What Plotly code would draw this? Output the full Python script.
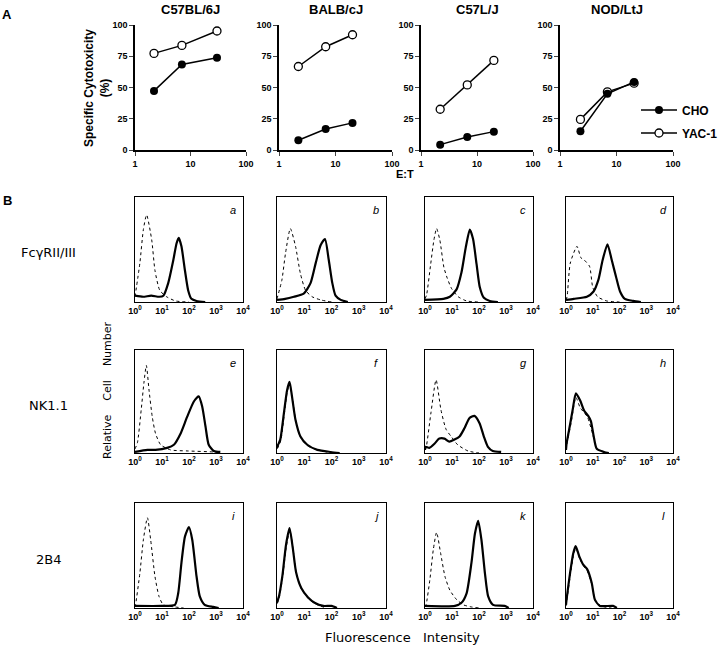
import numpy as np
import plotly.graph_objects as go

W, H = 720, 646

# ---------------- Panel A data ----------------
strains = ["C57BL/6J", "BALB/cJ", "C57L/J", "NOD/LtJ"]
et_c57bl6 = [2.2, 7.0, 30]
et_balb = [2.2, 6.7, 20]
et_c57l = [2.2, 6.7, 20]
et_nod = [2.3, 6.9, 20.5]
cho_c57bl6 = [47.3, 68.4, 73.8]
yac_c57bl6 = [77.3, 83.7, 95.2]
cho_balb = [7.8, 16.8, 21.7]
yac_balb = [66.8, 82.6, 92.2]
cho_c57l = [4.3, 10.4, 14.7]
yac_c57l = [32.6, 52.1, 71.7]
cho_nod = [15.0, 45.0, 54.5]
yac_nod = [24.5, 46.5, 53.5]
a_yticks = [0, 25, 50, 75, 100]
a_xticks = [1, 10, 100]
a_xticklabels = ["1", "10", "100"]

# ---------------- Panel B data (log10 fluorescence, % of max height) ----------------
a_dot_lx = [0.0, 0.18, 0.31, 0.43, 0.62, 0.74, 0.92, 1.17, 1.5, 2.0]
a_dot_y = [5, 37, 69, 83, 59, 30, 11, 5, 1, 0]
a_sol_lx = [0.0, 0.3, 0.6, 0.9, 1.05, 1.23, 1.42, 1.54, 1.62, 1.72, 1.85, 1.97, 2.09, 2.28, 2.6]
a_sol_y = [6, 5, 6, 5, 6, 18, 40, 56, 61, 53, 30, 11, 3, 1, 0]

b_dot_lx = [0.0, 0.18, 0.31, 0.49, 0.68, 0.86, 1.05, 1.29, 1.6, 2.0]
b_dot_y = [3, 21, 46, 70, 53, 27, 11, 5, 2, 0]
b_sol_lx = [0.0, 0.3, 0.62, 0.98, 1.23, 1.42, 1.6, 1.76, 1.9, 2.03, 2.15, 2.34, 2.6]
b_sol_y = [2, 3, 5, 8, 18, 37, 54, 60, 40, 18, 6, 2, 0]

c_dot_lx = [0.0, 0.06, 0.21, 0.33, 0.43, 0.55, 0.7, 0.82, 0.98, 1.23, 1.54, 2.0]
c_dot_y = [3, 7, 36, 59, 70, 59, 33, 23, 13, 5, 1, 0]
c_sol_lx = [0.0, 0.68, 0.92, 1.17, 1.35, 1.51, 1.66, 1.78, 1.91, 2.03, 2.18, 2.4, 2.7]
c_sol_y = [2, 3, 5, 12, 28, 52, 69, 60, 36, 14, 4, 1, 0]

d_dot_lx = [0.0, 0.04, 0.16, 0.41, 0.56, 0.68, 0.88, 1.0, 1.18, 1.52, 2.0]
d_dot_y = [2, 5, 37, 53, 42, 40, 34, 14, 5, 1, 0]
d_sol_lx = [0.0, 0.29, 0.78, 1.03, 1.21, 1.37, 1.55, 1.71, 1.87, 2.02, 2.2, 2.51, 2.8]
d_sol_y = [2, 3, 5, 10, 21, 40, 55, 40, 24, 10, 3, 1, 0]

e_dot_lx = [0.0, 0.09, 0.23, 0.33, 0.42, 0.52, 0.64, 0.76, 0.95, 1.32, 1.93, 2.9, 3.2]
e_dot_y = [4, 10, 42, 68, 85, 61, 35, 19, 8, 3, 2, 1, 0]
e_sol_lx = [0.0, 0.46, 0.76, 1.19, 1.44, 1.69, 1.93, 2.18, 2.36, 2.49, 2.61, 2.73, 2.92, 3.16]
e_sol_y = [1, 3, 3, 5, 8, 19, 35, 50, 55, 45, 26, 8, 2, 1]

f_dot_lx = [0.0, 0.06, 0.14, 0.26, 0.38, 0.47, 0.56, 0.69, 0.87, 1.12, 1.5, 2.0]
f_dot_y = [4, 7, 12, 36, 60, 67, 54, 31, 15, 7, 3, 0]
f_sol_lx = [0.0, 0.04, 0.12, 0.25, 0.37, 0.46, 0.55, 0.68, 0.86, 1.11, 1.48, 1.97, 2.3]
f_sol_y = [5, 8, 13, 38, 61, 69, 55, 32, 16, 8, 3, 1, 0]

g_dot_lx = [0.0, 0.04, 0.22, 0.41, 0.59, 0.78, 0.97, 1.21, 1.59, 2.0]
g_dot_y = [3, 5, 39, 71, 42, 23, 16, 8, 2, 0]
g_sol_lx = [0.0, 0.02, 0.16, 0.35, 0.53, 0.72, 0.9, 1.09, 1.28, 1.46, 1.65, 1.83, 2.02, 2.18, 2.33, 2.51, 2.82]
g_sol_y = [3, 6, 5, 9, 14, 14, 11, 13, 16, 24, 34, 36, 29, 16, 6, 2, 1]

h_dot_lx = [0.0, 0.02, 0.19, 0.37, 0.53, 0.8, 0.99, 1.15, 1.42, 1.6]
h_dot_y = [3, 7, 29, 54, 44, 35, 19, 5, 1, 0]
h_sol_lx = [0.0, 0.02, 0.12, 0.25, 0.37, 0.53, 0.68, 0.83, 0.93, 1.03, 1.15, 1.42, 1.6]
h_sol_y = [3, 9, 23, 42, 58, 51, 41, 36, 31, 17, 4, 1, 0]

i_dot_lx = [0.0, 0.02, 0.18, 0.31, 0.46, 0.58, 0.74, 0.89, 1.05, 1.48, 1.8]
i_dot_y = [1, 3, 33, 65, 86, 65, 30, 11, 3, 1, 0]
i_sol_lx = [0.0, 0.98, 1.48, 1.6, 1.72, 1.85, 2.0, 2.12, 2.28, 2.4, 2.58, 2.9, 3.1]
i_sol_y = [2, 2, 3, 14, 43, 68, 77, 65, 30, 11, 3, 1, 0]

j_dot_lx = [0.0, 0.09, 0.21, 0.34, 0.47, 0.59, 0.71, 0.9, 1.15, 1.4, 1.8]
j_dot_y = [4, 11, 30, 58, 74, 56, 33, 18, 9, 4, 0]
j_sol_lx = [0.0, 0.08, 0.2, 0.33, 0.46, 0.58, 0.7, 0.89, 1.14, 1.38, 1.7, 2.0, 2.2]
j_sol_y = [5, 12, 31, 60, 76, 57, 34, 19, 10, 5, 2, 2, 0]

k_dot_lx = [0.0, 0.04, 0.18, 0.31, 0.43, 0.58, 0.74, 0.92, 1.17, 1.42, 1.72, 2.0]
k_dot_y = [1, 3, 27, 56, 72, 52, 30, 17, 8, 3, 1, 0]
k_sol_lx = [0.0, 1.11, 1.35, 1.54, 1.72, 1.85, 1.97, 2.09, 2.22, 2.34, 2.52, 2.95, 3.1]
k_sol_y = [2, 2, 5, 14, 43, 71, 83, 65, 33, 11, 3, 2, 0]

l_dot_lx = [0.0, 0.03, 0.16, 0.28, 0.37, 0.51, 0.66, 0.8, 0.97, 1.09, 1.3, 1.7]
l_dot_y = [2, 7, 31, 50, 57, 47, 40, 35, 22, 7, 2, 0]
l_sol_lx = [0.0, 0.02, 0.15, 0.27, 0.36, 0.5, 0.65, 0.79, 0.96, 1.08, 1.27, 1.76, 1.9]
l_sol_y = [3, 8, 33, 52, 59, 49, 41, 37, 24, 8, 2, 2, 0]

panel_letters = ["a", "b", "c", "d", "e", "f", "g", "h", "i", "j", "k", "l"]
row_labels = ["FcγRII/III", "NK1.1", "2B4"]
hist_xticks = [1, 10, 100, 1000, 10000]
hist_xticklabels = ["10<sup>0</sup>", "10<sup>1</sup>", "10<sup>2</sup>", "10<sup>3</sup>", "10<sup>4</sup>"]

# ---------------- layout geometry (pixels) ----------------
a_cols = [(135, 246), (279, 392), (421, 533), (560, 673)]
a_top, a_bot = 25, 150
b_cols = [(135, 243), (277, 386), (425, 533), (566, 673)]
b_rows = [(197, 302), (350, 453), (503, 608)]

def fx(p):
    return p / W

def fy(p):
    return 1 - p / H

fig = go.Figure()
layout = dict(width=W, height=H, margin=dict(l=0, r=0, t=0, b=0, autoexpand=False),
              plot_bgcolor="white", paper_bgcolor="white", showlegend=True)
annotations = []
bold = dict(family="Liberation Sans, Arial", color="black", weight="bold")

ets = [et_c57bl6, et_balb, et_c57l, et_nod]
chos = [cho_c57bl6, cho_balb, cho_c57l, cho_nod]
yacs = [yac_c57bl6, yac_balb, yac_c57l, yac_nod]

for i in range(4):
    n = i + 1
    xa = "x" if n == 1 else f"x{n}"
    ya = "y" if n == 1 else f"y{n}"
    l, r = a_cols[i]
    layout["xaxis" if n == 1 else f"xaxis{n}"] = dict(
        domain=[fx(l), fx(r)], anchor=ya, type="log", range=[0, 2],
        tickvals=a_xticks, ticktext=a_xticklabels, ticks="outside", ticklen=4,
        tickwidth=1.2, showline=True, linewidth=1.5, linecolor="black",
        showgrid=False, zeroline=False, tickfont=dict(size=9, **bold))
    layout["yaxis" if n == 1 else f"yaxis{n}"] = dict(
        domain=[fy(a_bot), fy(a_top)], anchor=xa, range=[0, 100],
        tickvals=a_yticks, ticks="outside", ticklen=4, tickwidth=1.2,
        showline=True, linewidth=1.5, linecolor="black", showgrid=False,
        zeroline=False, tickfont=dict(size=9, **bold))
    fig.add_trace(go.Scatter(
        x=ets[i], y=yacs[i], mode="lines+markers", name="YAC-1", xaxis=xa, yaxis=ya,
        line=dict(color="black", width=1.5),
        marker=dict(symbol="circle", size=8, color="white", line=dict(color="black", width=1.3)),
        showlegend=(i == 3), legend="legend2", cliponaxis=False))
    fig.add_trace(go.Scatter(
        x=ets[i], y=chos[i], mode="lines+markers", name="CHO", xaxis=xa, yaxis=ya,
        line=dict(color="black", width=1.5),
        marker=dict(symbol="circle", size=8, color="black"),
        showlegend=(i == 3), legend="legend", cliponaxis=False))
    annotations.append(dict(x=fx((l + r) / 2), y=fy(9), text=strains[i],
                            font=dict(size=13, **bold)))

layout["legend"] = dict(x=fx(636), y=fy(110), xanchor="left", yanchor="middle",
                        font=dict(size=12, **bold), bgcolor="rgba(0,0,0,0)", itemwidth=36)
layout["legend2"] = dict(x=fx(636), y=fy(133), xanchor="left", yanchor="middle",
                         font=dict(size=12, **bold), bgcolor="rgba(0,0,0,0)", itemwidth=36)

hist = [
    (a_dot_lx, a_dot_y, a_sol_lx, a_sol_y), (b_dot_lx, b_dot_y, b_sol_lx, b_sol_y),
    (c_dot_lx, c_dot_y, c_sol_lx, c_sol_y), (d_dot_lx, d_dot_y, d_sol_lx, d_sol_y),
    (e_dot_lx, e_dot_y, e_sol_lx, e_sol_y), (f_dot_lx, f_dot_y, f_sol_lx, f_sol_y),
    (g_dot_lx, g_dot_y, g_sol_lx, g_sol_y), (h_dot_lx, h_dot_y, h_sol_lx, h_sol_y),
    (i_dot_lx, i_dot_y, i_sol_lx, i_sol_y), (j_dot_lx, j_dot_y, j_sol_lx, j_sol_y),
    (k_dot_lx, k_dot_y, k_sol_lx, k_sol_y), (l_dot_lx, l_dot_y, l_sol_lx, l_sol_y),
]

for k in range(12):
    n = 5 + k
    row, col = divmod(k, 4)
    l, r = b_cols[col]
    t, b = b_rows[row]
    xa, ya = f"x{n}", f"y{n}"
    layout[f"xaxis{n}"] = dict(
        domain=[fx(l), fx(r)], anchor=ya, type="log", range=[0, 4],
        tickvals=hist_xticks, ticktext=hist_xticklabels, ticks="",
        showline=True, mirror=True, linewidth=1.3, linecolor="black",
        showgrid=False, zeroline=False, tickfont=dict(size=9, **bold))
    layout[f"yaxis{n}"] = dict(
        domain=[fy(b), fy(t)], anchor=xa, range=[0, 100], showticklabels=False,
        ticks="", showline=True, mirror=True, linewidth=1.3, linecolor="black",
        showgrid=False, zeroline=False)
    dlx, dy, slx, sy = hist[k]
    fig.add_trace(go.Scatter(
        x=10 ** np.array(dlx), y=dy, mode="lines", xaxis=xa, yaxis=ya, showlegend=False,
        line=dict(color="black", width=1, dash="dot", shape="spline", smoothing=0.6)))
    fig.add_trace(go.Scatter(
        x=10 ** np.array(slx), y=sy, mode="lines", xaxis=xa, yaxis=ya, showlegend=False,
        line=dict(color="black", width=2.2, shape="spline", smoothing=0.6)))
    annotations.append(dict(x=fx(r - 10), y=fy(t + 13), text=panel_letters[k],
                            font=dict(family="Liberation Sans, Arial", size=11,
                                      color="black", style="italic")))

# panel letters and axis titles
annotations += [
    dict(x=fx(7), y=fy(14), text="A", font=dict(size=13, **bold)),
    dict(x=fx(7), y=fy(200), text="B", font=dict(size=13, **bold)),
    dict(x=fx(97), y=fy(88), text="Specific Cytotoxicity<br>(%)", textangle=-90,
         font=dict(size=12, **bold)),
    dict(x=fx(405), y=fy(174), text="E:T", font=dict(size=11, **bold)),
]
sans = dict(family="DejaVu Sans", color="black")
row_label_y = [252, 405, 559]
for lab, yy in zip(row_labels, row_label_y):
    annotations.append(dict(x=fx(48), y=fy(yy), text=lab, font=dict(size=13, **sans)))
nb = "\u00a0"
annotations.append(dict(x=fx(107), y=fy(390), text=f"Relative{nb*4}Cell{nb*4}Number",
                        textangle=-90, font=dict(size=11, **sans)))
annotations.append(dict(x=fx(402), y=fy(637), text=f"Fluorescence{nb*3}Intensity",
                        font=dict(size=13, **sans)))
for a in annotations:
    a["xref"] = "paper"
    a["yref"] = "paper"
    a["showarrow"] = False
    a["xanchor"] = "center"
    a["yanchor"] = "middle"
layout["annotations"] = annotations

fig.update_layout(**layout)
fig.write_html("out.html", config={"displayModeBar": False},
               post_script="document.body.style.margin='0';")
